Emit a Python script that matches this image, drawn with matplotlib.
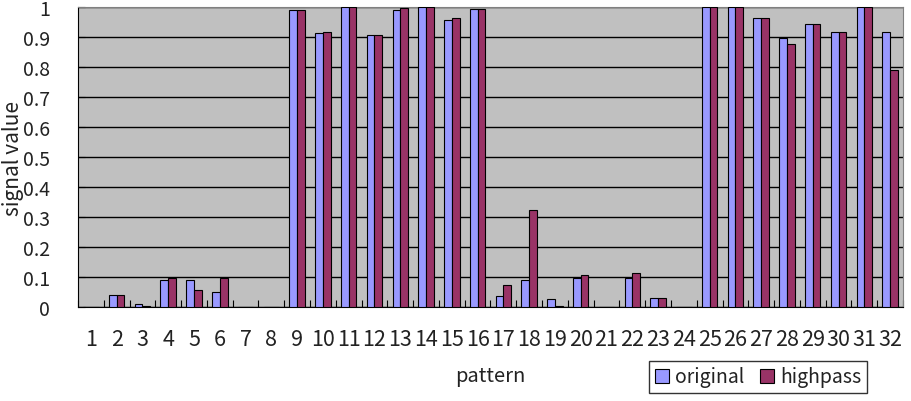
import numpy as np
import matplotlib.pyplot as plt

plt.rcParams['font.family'] = ['Noto Sans CJK JP', 'DejaVu Sans']

# ---------- Data ----------
patterns = [str(i) for i in range(1, 33)]
original = [0.0, 0.040, 0.009, 0.089, 0.089, 0.049, 0.0, 0.0,
            0.991, 0.914, 1.0, 0.908, 0.990, 1.0, 0.956, 0.995,
            0.038, 0.090, 0.026, 0.096, 0.0, 0.096, 0.030, 0.0,
            1.0, 1.0, 0.963, 0.899, 0.944, 0.919, 1.0, 0.919]
highpass = [0.0, 0.040, 0.004, 0.096, 0.058, 0.096, 0.0, 0.0,
            0.991, 0.919, 1.0, 0.906, 0.996, 1.0, 0.963, 0.995,
            0.073, 0.323, 0.004, 0.106, 0.0, 0.114, 0.030, 0.0,
            1.0, 1.0, 0.963, 0.876, 0.944, 0.919, 1.0, 0.790]
yticks = [0, 0.1, 0.2, 0.3, 0.4, 0.5, 0.6, 0.7, 0.8, 0.9, 1]
ytick_labels = ["0", "0.1", "0.2", "0.3", "0.4", "0.5", "0.6", "0.7", "0.8", "0.9", "1"]

C_ORIG = "#9999FF"
C_HIGH = "#993366"
TXT = "#222222"

# ---------- Plot ----------
fig = plt.figure(figsize=(9.11, 4.02), dpi=100)
ax = fig.add_axes([0.0856, 0.2338, 0.9056, 0.7456])
ax.set_facecolor("#C0C0C0")

x = np.arange(len(patterns))
bw = 0.3
ax.bar(x - bw / 2, original, bw, color=C_ORIG, edgecolor="black", linewidth=0.8,
       label="original", zorder=3)
ax.bar(x + bw / 2, highpass, bw, color=C_HIGH, edgecolor="black", linewidth=0.8,
       label="highpass", zorder=3)

ax.set_xlim(-0.5, len(patterns) - 0.5)
ax.set_ylim(0, 1)

# gridlines
ax.set_yticks(yticks)
ax.set_yticklabels(ytick_labels, fontsize=14, color=TXT)
ax.yaxis.grid(True, color="black", linewidth=1.0, zorder=1)
ax.set_axisbelow(True)
ax.tick_params(axis="y", direction="in", length=5, pad=20, width=0.8)

# x ticks: labels at centres, small marks on category boundaries
ax.set_xticks(x)
ax.set_xticklabels(patterns, fontsize=15.5, color=TXT)
ax.set_xticks(np.arange(-0.5, len(patterns)), minor=True)
ax.tick_params(axis="x", which="major", length=0, pad=15)
ax.tick_params(axis="x", which="minor", direction="in", length=5, width=0.8)

for side in ["top", "right"]:
    ax.spines[side].set_color("#808080")
for side in ["left", "bottom"]:
    ax.spines[side].set_color("black")

ax.set_ylabel("signal value", fontsize=15, color=TXT, va="center")
ax.yaxis.set_label_coords(-0.0788, 0.5)
ax.set_xlabel("pattern", fontsize=14.5, color=TXT, va="center")
ax.xaxis.set_label_coords(0.5, -(377 - 308) / 300)

leg = ax.legend(loc="center", bbox_to_anchor=(758 / 911, (402 - 378) / 402),
                bbox_transform=fig.transFigure, ncol=2, fontsize=14,
                frameon=True, fancybox=False, edgecolor="black",
                handlelength=0.75, handleheight=0.75, handletextpad=0.3,
                columnspacing=0.8, borderpad=0.3)
leg.get_frame().set_linewidth(1.0)
for t in leg.get_texts():
    t.set_color(TXT)

fig.savefig("out.png", dpi=100)
